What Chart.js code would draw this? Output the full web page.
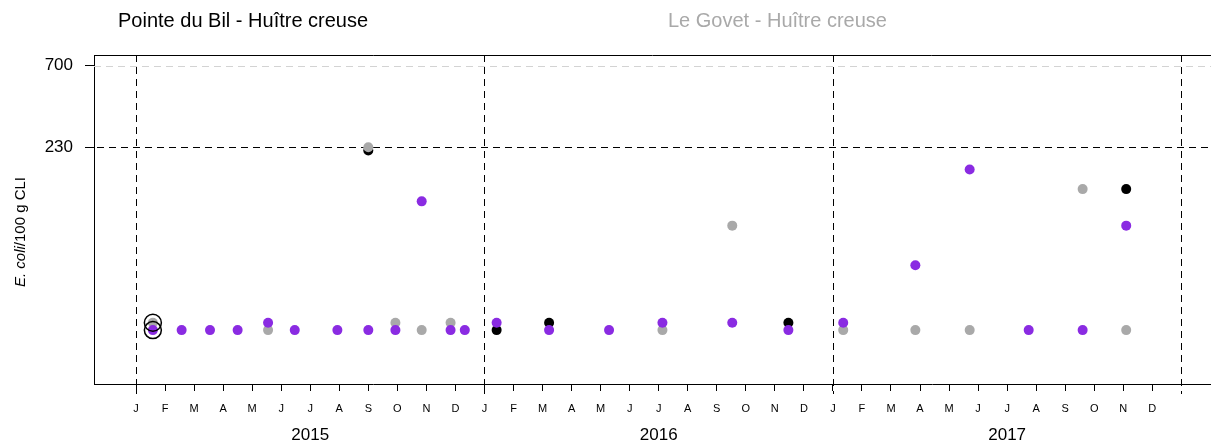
<!DOCTYPE html>
<html>
<head>
<meta charset="utf-8">
<script src="https://cdn.jsdelivr.net/npm/chart.js@4/dist/chart.umd.min.js"></script>
<style>
  body { margin: 0; background: #fff; }
  #wrap { width: 1211px; height: 441px; }
</style>
</head>
<body>
<div id="wrap"><canvas id="chart" width="1211" height="441"></canvas></div>
<script>
const FONT = "'Liberation Sans', Arial, Helvetica, sans-serif";

const monthLetters = ['J', 'F', 'M', 'A', 'M', 'J', 'J', 'A', 'S', 'O', 'N', 'D'];
const yearLabels = ['2015', '2016', '2017'];
const yTickValues = [230, 700];

// Pointe du Bil
const bilDates = ['2015-09-01', '2016-01-14', '2016-03-08', '2016-11-15', '2017-11-04'];
const bilValues = [220, 19, 21, 21, 130];

// Le Govet
const govetDates = ['2015-01-19', '2015-05-18', '2015-09-01', '2015-09-29', '2015-10-27', '2015-11-26',
                    '2016-07-05', '2016-09-17', '2017-01-12', '2017-03-27', '2017-05-23', '2017-09-19', '2017-11-04'];
const govetValues = [21, 19, 230, 21, 19, 21, 19, 79, 19, 19, 19, 130, 19];

// third point (violet)
const violetDates = ['2015-01-19', '2015-02-17', '2015-03-18', '2015-04-16', '2015-05-18', '2015-06-15',
                     '2015-07-30', '2015-09-01', '2015-09-29', '2015-10-27', '2015-11-26', '2015-12-11',
                     '2016-01-14', '2016-03-08', '2016-05-10', '2016-07-05', '2016-09-17', '2016-11-15',
                     '2017-01-12', '2017-03-27', '2017-05-23', '2017-07-24', '2017-09-19', '2017-11-04'];
const violetValues = [19, 19, 19, 19, 21, 19, 19, 19, 19, 110, 19, 19,
                      21, 19, 19, 21, 21, 19, 21, 46, 170, 19, 19, 79];

// ringed results
const ringDates = ['2015-01-19', '2015-01-19'];
const ringValues = [21, 19];

function monthIndex(d) {
  const [y, m, day] = d.split('-').map(Number);
  const days = new Date(y, m, 0).getDate();
  return (y - 2015) * 12 + (m - 1) + (day - 1) / days;
}
function toPoints(dates, values) {
  return dates.map((d, i) => ({ x: monthIndex(d), y: values[i] }));
}

const decor = {
  id: 'decor',
  beforeDatasetsDraw(chart) {
    const { ctx, chartArea: a, scales: { x, y } } = chart;
    ctx.save();
    ctx.lineWidth = 1;
    ctx.setLineDash([7, 5]);
    // 700 guide
    let py = Math.round(y.getPixelForValue(700)) + 0.5;
    ctx.strokeStyle = '#d3d3d3';
    ctx.beginPath(); ctx.moveTo(a.left, py); ctx.lineTo(a.right, py); ctx.stroke();
    // 230 threshold
    py = Math.round(y.getPixelForValue(230)) + 0.5;
    ctx.strokeStyle = '#000';
    ctx.beginPath(); ctx.moveTo(a.left - 9, py); ctx.lineTo(a.right, py); ctx.stroke();
    // year separators
    for (let k = 0; k <= yearLabels.length; k++) {
      const px = Math.round(x.getPixelForValue(k * 12)) + 0.5;
      ctx.beginPath(); ctx.moveTo(px, a.top); ctx.lineTo(px, a.bottom + 10); ctx.stroke();
    }
    ctx.restore();
  },
  afterDraw(chart) {
    const { ctx, chartArea: a, scales: { x } } = chart;
    ctx.save();
    // top frame line
    ctx.strokeStyle = '#000';
    ctx.lineWidth = 1;
    ctx.beginPath(); ctx.moveTo(a.left, Math.round(a.top) + 0.5); ctx.lineTo(a.right, Math.round(a.top) + 0.5); ctx.stroke();

    // site titles
    ctx.textBaseline = 'alphabetic';
    ctx.font = '20px ' + FONT;
    ctx.fillStyle = '#000';
    ctx.fillText('Pointe du Bil - Huître creuse', 118, 27);
    ctx.fillStyle = '#a9a9a9';
    ctx.fillText('Le Govet - Huître creuse', 668, 27);

    // years under the month letters
    ctx.fillStyle = '#000';
    ctx.font = '17px ' + FONT;
    ctx.textAlign = 'center';
    ctx.textBaseline = 'middle';
    yearLabels.forEach((lbl, k) => ctx.fillText(lbl, x.getPixelForValue(k * 12 + 6), 435));

    // y axis title, with the species name in italics
    ctx.translate(21, 232);
    ctx.rotate(-Math.PI / 2);
    const part1 = 'E. coli', part2 = '/100 g CLI';
    ctx.font = 'italic 15px ' + FONT;
    const w1 = ctx.measureText(part1).width;
    ctx.font = '15px ' + FONT;
    const w2 = ctx.measureText(part2).width;
    ctx.textAlign = 'left';
    let sx = -(w1 + w2) / 2;
    ctx.font = 'italic 15px ' + FONT;
    ctx.fillText(part1, sx, 0);
    ctx.font = '15px ' + FONT;
    ctx.fillText(part2, sx + w1, 0);
    ctx.restore();
  }
};

const dot = (color) => ({
  pointRadius: 5, pointHoverRadius: 5, pointBorderWidth: 0,
  pointBackgroundColor: color, pointBorderColor: color, showLine: false
});

new Chart(document.getElementById('chart'), {
  type: 'scatter',
  data: {
    datasets: [
      { label: 'Pointe du Bil', data: toPoints(bilDates, bilValues), order: 3, ...dot('#000000') },
      { label: 'Le Govet', data: toPoints(govetDates, govetValues), order: 2, ...dot('#a9a9a9') },
      { label: 'violet', data: toPoints(violetDates, violetValues), order: 1, ...dot('#8a2be2') },
      { label: 'ring', data: toPoints(ringDates, ringValues), order: 0, showLine: false,
        pointRadius: 8.5, pointBorderWidth: 1.5, pointBorderColor: '#000', pointBackgroundColor: 'rgba(0,0,0,0)' }
    ]
  },
  options: {
    responsive: false,
    animation: false,
    events: [],
    layout: { autoPadding: false, padding: { top: 55, right: 0, left: 0, bottom: 0 } },
    plugins: { legend: { display: false }, tooltip: { enabled: false } },
    scales: {
      x: {
        type: 'linear',
        min: -1.4465,
        max: 37.02,
        afterBuildTicks: (s) => { s.ticks = Array.from({ length: 36 }, (_, i) => ({ value: i })); },
        afterFit: (s) => { s.height = 57; s.paddingLeft = 0; s.paddingRight = 0; },
        grid: { display: true, drawOnChartArea: false, drawTicks: true, tickLength: 7, color: '#000' },
        border: { display: true, color: '#000' },
        ticks: {
          autoSkip: false, maxRotation: 0, padding: 11, color: '#000',
          font: { family: FONT, size: 11 },
          callback: (v) => monthLetters[((v % 12) + 12) % 12]
        }
      },
      y: {
        type: 'logarithmic',
        min: 9.11,
        max: 810,
        afterBuildTicks: (s) => { s.ticks = yTickValues.map(v => ({ value: v })); },
        afterFit: (s) => { s.width = 94; s.paddingTop = 0; s.paddingBottom = 0; },
        grid: { display: true, drawOnChartArea: false, drawTicks: true, tickLength: 9, color: '#000' },
        border: { display: true, color: '#000' },
        ticks: {
          padding: 12, color: '#000',
          font: { family: FONT, size: 17 },
          callback: (v) => String(v)
        }
      }
    }
  },
  plugins: [decor]
});
</script>
</body>
</html>
